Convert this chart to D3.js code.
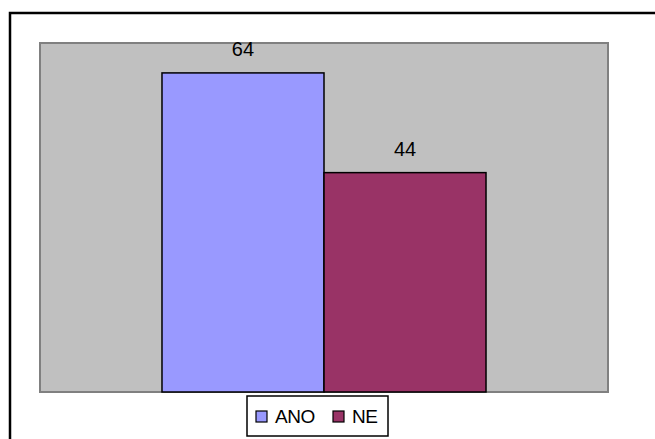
<!DOCTYPE html>
<html><head><meta charset="utf-8">
<script src="https://cdn.jsdelivr.net/npm/d3@7/dist/d3.min.js"></script>
<style>body{margin:0;background:#fff;}svg{display:block;font-family:"Liberation Sans",Arial,sans-serif;}</style>
</head><body>
<script>
const categories = [""];
const seriesNames = ["ANO", "NE"];
const values = [64, 44];
const colors = ["#9999ff", "#993366"];
const yMax = 70;

const W = 655, H = 439;
const svg = d3.select("body").append("svg").attr("width", W).attr("height", H);

// outer frame (clipped at right/bottom)
svg.append("rect").attr("x", 10).attr("y", 13).attr("width", 660).attr("height", 440)
  .attr("fill", "#fff").attr("stroke", "#000").attr("stroke-width", 2.5);

const plot = {l: 40, t: 43, r: 608, b: 392};
svg.append("rect").attr("x", plot.l).attr("y", plot.t)
  .attr("width", plot.r - plot.l).attr("height", plot.b - plot.t)
  .attr("fill", "#c0c0c0").attr("stroke", "#808080").attr("stroke-width", 2);

const x0 = d3.scaleBand().domain(categories).range([plot.l, plot.r]).paddingInner(0).paddingOuter(0.3765);
const x1 = d3.scaleBand().domain(seriesNames).range([0, x0.bandwidth()]).padding(0);
const y = d3.scaleLinear().domain([0, yMax]).range([plot.b, plot.t]);

const g = svg.append("g");
seriesNames.forEach((s, i) => {
  const bx = x0(categories[0]) + x1(s);
  g.append("rect").attr("x", bx).attr("y", y(values[i]))
    .attr("width", x1.bandwidth()).attr("height", y(0) - y(values[i]))
    .attr("fill", colors[i]).attr("stroke", "#000").attr("stroke-width", 1.5);
  g.append("text").attr("x", bx + x1.bandwidth() / 2).attr("y", y(values[i]) - 17)
    .attr("text-anchor", "middle").attr("font-size", 20).attr("fill", "#000")
    .text(values[i]);
});

// legend
const lg = svg.append("g");
lg.append("rect").attr("x", 247).attr("y", 396).attr("width", 141).attr("height", 40)
  .attr("fill", "#fff").attr("stroke", "#000").attr("stroke-width", 1.5);
const legendItems = [{x: 256, tx: 275}, {x: 333, tx: 352}];
seriesNames.forEach((s, i) => {
  lg.append("rect").attr("x", legendItems[i].x).attr("y", 411).attr("width", 11).attr("height", 11)
    .attr("fill", colors[i]).attr("stroke", "#000").attr("stroke-width", 1.2);
  lg.append("text").attr("x", legendItems[i].tx).attr("y", 423).attr("font-size", 19)
    .attr("letter-spacing", "-0.5").attr("fill", "#000").text(s);
});
</script>
</body></html>
